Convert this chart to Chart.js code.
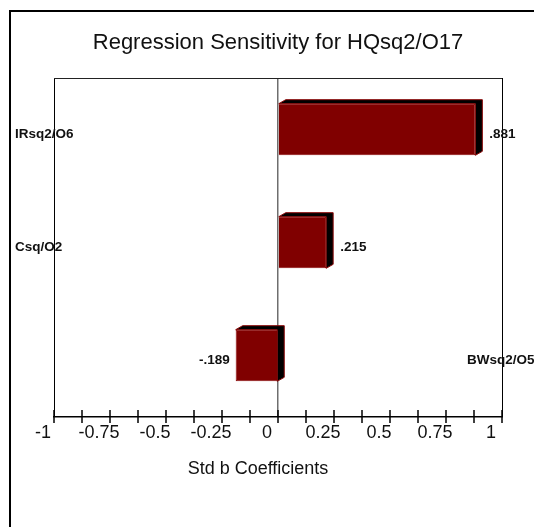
<!DOCTYPE html>
<html>
<head>
<meta charset="utf-8">
<script src="https://cdn.jsdelivr.net/npm/chart.js@4/dist/chart.umd.min.js"></script>
<style>
  body { margin: 0; background: #ffffff; }
  #wrap { width: 534px; height: 527px; }
</style>
</head>
<body>
<div id="wrap"><canvas id="chart" width="534" height="527"></canvas></div>
<script>
// values
const categories = ['IRsq2/O6', 'Csq/O2', 'BWsq2/O5'];
const coefficients = [0.881, 0.215, -0.189];
const valueLabels = ['.881', '.215', '-.189'];
const labeledTicks = [-1, -0.75, -0.5, -0.25, 0, 0.25, 0.5, 0.75, 1];
const chartTitle = 'Regression Sensitivity for HQsq2/O17';
const axisTitle = 'Std b Coefficients';

const FONT = '"Liberation Sans", Arial, sans-serif';
const depth_x = 7;
const depth_y = 4;
const bar_shift = -5;

// outer page frame, 3d bar faces, labels
const decorations = {
    id: 'decorations',
    beforeDraw(chart) {
        var ctx = chart.ctx;
        ctx.save();
        ctx.strokeStyle = '#000';
        ctx.lineWidth = 2;
        ctx.beginPath();
        ctx.moveTo(10, chart.height);
        ctx.lineTo(10, 11);
        ctx.lineTo(chart.width, 11);
        ctx.stroke();
        ctx.restore();
    },
    beforeDatasetsDraw(chart) {
        var ctx = chart.ctx;
        ctx.save();
        ctx.translate(0, bar_shift);
        var meta = chart.getDatasetMeta(0);
        meta.data.forEach(function(bar) {
            var p = bar.getProps(['x', 'y', 'base', 'height'], true);
            var left = Math.min(p.x, p.base);
            var right = Math.max(p.x, p.base);
            var top = p.y - p.height / 2;
            var bottom = p.y + p.height / 2;
            ctx.fillStyle = '#000';
            ctx.strokeStyle = '#8a0a0a';
            ctx.lineWidth = 1;
            ctx.beginPath();
            ctx.moveTo(left, top);
            ctx.lineTo(left + depth_x, top - depth_y);
            ctx.lineTo(right + depth_x, top - depth_y);
            ctx.lineTo(right + depth_x, bottom - depth_y);
            ctx.lineTo(right, bottom);
            ctx.lineTo(right, top);
            ctx.closePath();
            ctx.fill();
            ctx.stroke();
        });
    },
    afterDatasetsDraw(chart) {
        var ctx = chart.ctx;
        ctx.restore();
        var area = chart.chartArea;
        var meta = chart.getDatasetMeta(0);

        ctx.save();
        // top border of the plot
        ctx.strokeStyle = '#222';
        ctx.lineWidth = 1;
        ctx.beginPath();
        ctx.moveTo(area.left, area.top + 0.5);
        ctx.lineTo(area.right, area.top + 0.5);
        ctx.stroke();

        // tick marks across the axis
        var xs = chart.scales.x;
        ctx.strokeStyle = '#000';
        ctx.lineWidth = 1.5;
        xs.ticks.forEach(function(t) {
            var px = Math.round(xs.getPixelForValue(t.value));
            ctx.beginPath();
            ctx.moveTo(px, area.bottom - 7);
            ctx.lineTo(px, area.bottom + 6);
            ctx.stroke();
        });

        ctx.fillStyle = '#111';
        ctx.textBaseline = 'middle';
        ctx.font = 'bold 13.5px ' + FONT;
        meta.data.forEach(function(bar, i) {
            var p = bar.getProps(['x', 'y', 'base'], true);
            if (coefficients[i] >= 0) {
                ctx.textAlign = 'left';
                ctx.fillText(valueLabels[i], p.x + depth_x + 7, p.y);
                ctx.fillText(categories[i], 15, p.y);
            } else {
                ctx.textAlign = 'right';
                ctx.fillText(valueLabels[i], p.x - 6, p.y);
                ctx.textAlign = 'left';
                ctx.fillText(categories[i], 467, p.y);
            }
        });

        ctx.font = '18px ' + FONT;
        ctx.textAlign = 'center';
        ctx.fillText(axisTitle, area.left + (area.right - area.left) / 2 - 20, area.bottom + 52);
        ctx.restore();
    }
};

const ctx = document.getElementById('chart').getContext('2d');
const chart = new Chart(ctx, {
    type: 'bar',
    data: {
        labels: categories,
        datasets: [{
            data: coefficients,
            backgroundColor: '#800000',
            borderColor: '#8a0a0a',
            borderWidth: 1,
            barPercentage: 0.457,
            categoryPercentage: 1,
        }],
    },
    plugins: [decorations],
    options: {
        indexAxis: 'y',
        responsive: false,
        animation: false,
        devicePixelRatio: 1,
        layout: {
            padding: { left: 54, right: 32, top: 0, bottom: 40 },
        },
        plugins: {
            legend: { display: false },
            tooltip: { enabled: false },
            title: {
                display: true,
                text: chartTitle,
                color: '#111',
                font: { family: FONT, size: 22, weight: 'normal' },
                padding: { top: 30, bottom: 21.6 },
            },
        },
        scales: {
            x: {
                min: -1,
                max: 1,
                afterFit: function(scale) { scale.height = 70; },
                ticks: {
                    stepSize: 0.125,
                    autoSkip: false,
                    maxRotation: 0,
                    padding: 5,
                    labelOffset: -11,
                    color: '#111',
                    font: { family: FONT, size: 18 },
                    callback: function(v) {
                        return labeledTicks.includes(v) ? String(v) : '';
                    },
                },
                grid: {
                    drawTicks: false,
                    drawOnChartArea: true,
                    color: function(c) {
                        if (!c.tick) return 'transparent';
                        if (c.tick.value === 0) return '#6e6e6e';
                        if (c.tick.value === -1 || c.tick.value === 1) return '#000';
                        return 'transparent';
                    },
                    lineWidth: function(c) {
                        return (c.tick && c.tick.value === 0) ? 1.5 : 1;
                    },
                },
                border: { display: true, color: '#000', width: 1.5 },
            },
            y: {
                display: false,
            },
        },
    },
});
</script>
</body>
</html>
